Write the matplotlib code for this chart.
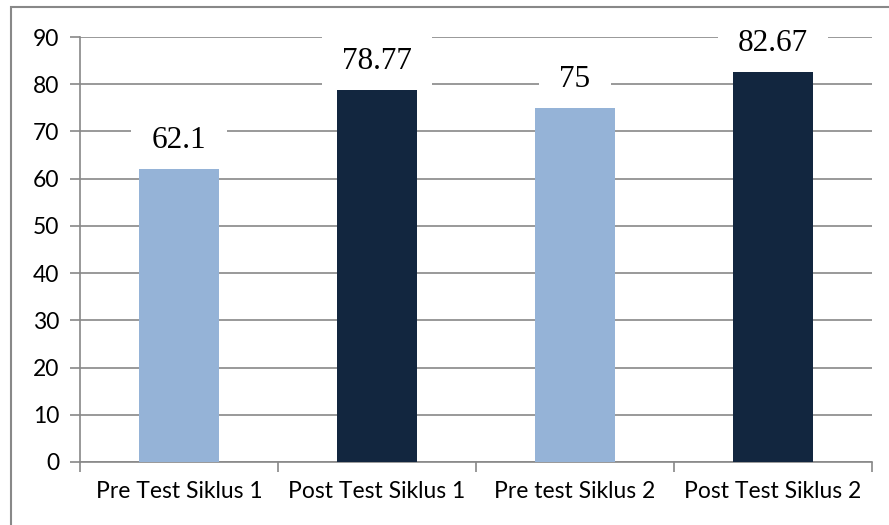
import matplotlib
matplotlib.use("Agg")
from matplotlib import pyplot as plt
from matplotlib.patches import Rectangle

categories = ["Pre Test Siklus 1", "Post Test Siklus 1", "Pre test Siklus 2", "Post Test Siklus 2"]
scores = [62.1, 78.77, 75, 82.67]
labels = ["62.1", "78.77", "75", "82.67"]
colors = ["#95B3D7", "#12263F", "#95B3D7", "#12263F"]

W, H = 889, 525
fig = plt.figure(figsize=(W / 100, H / 100), dpi=100)

# outer chart border (runs off the right and bottom edge like the original)
fig.patches.append(Rectangle((11 / W, -0.1), 1.0, (525 - 7) / H + 0.1,
                             transform=fig.transFigure, fill=False,
                             edgecolor="#888888", lw=1.5, clip_on=False))

ax = fig.add_axes([80 / W, (H - 462) / H, (872 - 80) / W, (462 - 37) / H])
x = list(range(len(categories)))
ax.bar(x, scores, width=0.405, color=colors, zorder=4)

ax.set_xlim(-0.5, len(categories) - 0.5)
ax.set_ylim(0, 90)
ax.set_yticks(range(0, 91, 10))
ax.yaxis.grid(True, color="#888888", lw=1.2, zorder=0)
ax.set_axisbelow(True)

for s in ["top", "right"]:
    ax.spines[s].set_visible(False)
for s in ["left", "bottom"]:
    ax.spines[s].set_color("#888888")
    ax.spines[s].set_linewidth(1.2)

tick_font = {"family": "Lato", "size": 16.5}
ax.set_xticks(x)
ax.set_xticklabels(categories, **tick_font)
ax.set_xticks([i - 0.5 for i in range(len(categories) + 1)], minor=True)
ax.tick_params(axis="x", which="major", length=0, pad=14, colors="black")
ax.tick_params(axis="x", which="minor", length=7, width=1.2, color="#888888", direction="out")
ax.tick_params(axis="y", length=7, width=1.2, color="#888888", pad=8)
for t in ax.get_yticklabels():
    t.set_fontfamily("Lato")
    t.set_fontsize(16.5)

for i, v in enumerate(scores):
    ax.annotate(labels[i], (i, v), xytext=(0, 10), textcoords="offset points",
                ha="center", va="bottom", fontsize=22.5, family="Liberation Serif",
                bbox=dict(boxstyle="square,pad=0.65", fc="white", ec="none"), zorder=3)

fig.savefig("out.png", dpi=100)
